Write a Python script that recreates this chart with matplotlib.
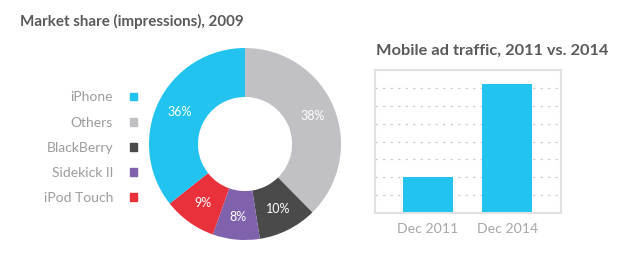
import matplotlib.pyplot as plt
from matplotlib.patches import Patch

plt.rcParams['font.family'] = ['Lato', 'DejaVu Sans']

# market share donut
brands = ['Others', 'BlackBerry', 'Sidekick II', 'iPod Touch', 'iPhone']
shares = [38, 10, 8, 9, 36]
brand_colors = ['#c1c1c5', '#4a4a4a', '#7f62ab', '#e9313b', '#22c4ef']
legend_order = ['iPhone', 'Others', 'BlackBerry', 'Sidekick II', 'iPod Touch']

# ad traffic bars
periods = ['Dec 2011', 'Dec 2014']
traffic = [2.0, 7.2]

title_color = '#5a5a5a'
label_color = '#a8a8a8'

fig = plt.figure(figsize=(6.2, 2.56), dpi=100)

fig.text(20 / 620, 1 - 21 / 256, 'Market share (impressions), 2009', fontsize=10.9,
         fontweight='bold', color=title_color, va='center', ha='left')

ax1 = fig.add_axes([149 / 620, 16 / 256, 192 / 620, 192 / 256])
wedges, texts, autotexts = ax1.pie(
    shares, colors=brand_colors, startangle=90, counterclock=False,
    radius=1, autopct=lambda p: f'{p:.0f}%', pctdistance=0.76,
    wedgeprops=dict(width=0.51, linewidth=0),
    textprops=dict(color='white', fontsize=9))
ax1.set_xlim(-1, 1)
ax1.set_ylim(-1, 1)
ax1.set_aspect('equal')

handles = [Patch(color=brand_colors[brands.index(b)]) for b in legend_order]
ax1.legend(handles, legend_order, loc='center right',
           bbox_to_anchor=(-0.0, 0.48), frameon=False, markerfirst=False,
           handlelength=0.5, handleheight=0.5, handletextpad=1.2,
           labelspacing=0.95, fontsize=10, labelcolor='#9c9c9c')

# bar chart
fig.text(376 / 620, 1 - 51 / 256, 'Mobile ad traffic, 2011 vs. 2014', fontsize=11.8,
         fontweight='bold', color=title_color, va='center', ha='left')

ax2 = fig.add_axes([375 / 620, 43 / 256, 186 / 620, 143 / 256])
ax2.bar(range(len(periods)), traffic, width=0.63, color='#22c4ef', zorder=2)
ax2.set_xlim(-0.67, 1.68)
ax2.set_ylim(0, 8)
ax2.set_yticks(range(1, 8))
ax2.set_yticklabels([])
ax2.set_xticks(range(len(periods)))
ax2.set_xticklabels(periods, fontsize=10.2, color=label_color)
ax2.tick_params(length=0, pad=7)
ax2.grid(axis='y', color='#cfcfcf', linestyle=(0, (2, 4)), linewidth=0.9, zorder=0)
for s in ax2.spines.values():
    s.set_color('#e2e2e2')
    s.set_linewidth(1.5)

fig.savefig('out.png', dpi=100)
